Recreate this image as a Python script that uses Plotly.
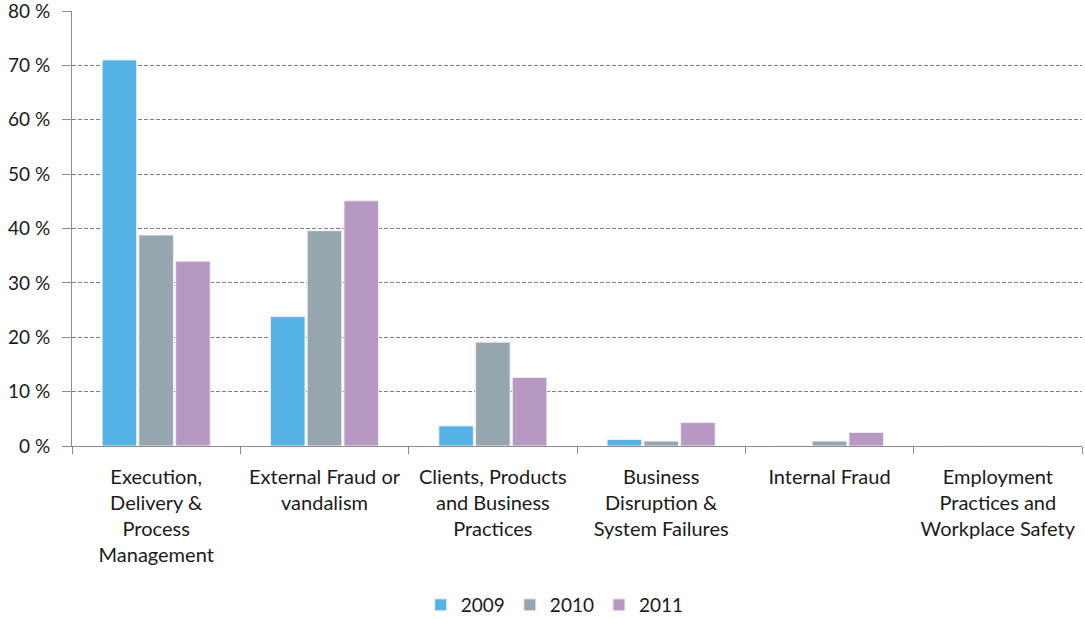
import plotly.graph_objects as go

categories = [
    "Execution,<br>Delivery &<br>Process<br>Management",
    "External Fraud or<br>vandalism",
    "Clients, Products<br>and Business<br>Practices",
    "Business<br>Disruption &<br>System Failures",
    "Internal Fraud",
    "Employment<br>Practices and<br>Workplace Safety",
]
years = ["2009", "2010", "2011"]
values_2009 = [71.0, 23.8, 3.7, 1.2, 0.0, 0.0]
values_2010 = [38.8, 39.6, 19.1, 0.9, 0.9, 0.0]
values_2011 = [34.0, 45.1, 12.6, 4.3, 2.5, 0.0]
colors = ["#55B2E4", "#95A6AE", "#B798C2"]
y_ticks = [0, 10, 20, 30, 40, 50, 60, 70, 80]
y_ticktext = [f"{v} %" for v in y_ticks]

fig = go.Figure()
for name, vals, col in zip(years, [values_2009, values_2010, values_2011], colors):
    fig.add_trace(go.Bar(
        x=categories, y=vals, name=name,
        marker=dict(color=col, line=dict(color="#EEEEF2", width=1)),
    ))

font_family = "Lato, 'Open Sans', sans-serif"
fig.update_layout(
    width=1085, height=619,
    margin=dict(l=72, r=3, t=11, b=173),
    paper_bgcolor="white", plot_bgcolor="white",
    barmode="group", bargap=0.345, bargroupgap=0.06,
    font=dict(family=font_family, size=19, color="#1A1A1A"),
    showlegend=True,
    legend=dict(orientation="h", x=0.478, xanchor="center",
                yref="container", y=0.0226, yanchor="middle",
                font=dict(size=19), traceorder="normal"),
    xaxis=dict(
        type="category", showline=True, linecolor="#8C8C8C", linewidth=1,
        ticks="outside", tickson="boundaries", ticklen=7, tickcolor="#8C8C8C",
        showgrid=False, tickfont=dict(size=20), automargin=False,
        ticklabelstandoff=13, ticklabeloverflow="allow",
    ),
    yaxis=dict(
        range=[0, 80], tickvals=y_ticks, ticktext=y_ticktext,
        showline=True, linecolor="#8C8C8C", linewidth=1,
        ticks="outside", ticklen=9, tickcolor="#8C8C8C",
        showgrid=True, gridcolor="#808080", griddash="4px,2px", gridwidth=1,
        zeroline=False, tickfont=dict(size=19), automargin=False,
        ticklabelstandoff=8, ticklabeloverflow="allow",
    ),
)

fig.write_html(
    "out.html",
    config={"displayModeBar": False},
    post_script="document.body.style.margin='0';document.body.style.overflow='hidden';",
)
